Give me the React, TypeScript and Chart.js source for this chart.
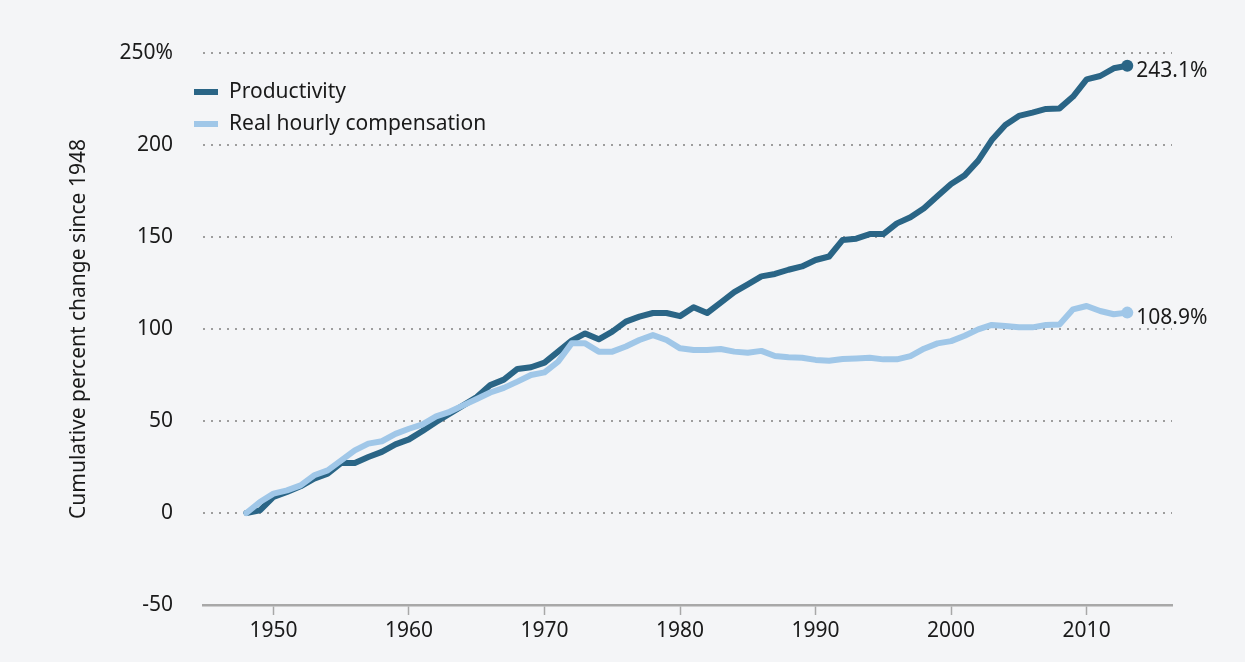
import React, { useEffect, useRef } from "react";
import { Chart, registerables } from "chart.js";

Chart.register(...registerables);

const years = [
  1948, 1949, 1950, 1951, 1952, 1953, 1954, 1955, 1956, 1957, 1958, 1959,
  1960, 1961, 1962, 1963, 1964, 1965, 1966, 1967, 1968, 1969, 1970, 1971,
  1972, 1973, 1974, 1975, 1976, 1977, 1978, 1979, 1980, 1981, 1982, 1983,
  1984, 1985, 1986, 1987, 1988, 1989, 1990, 1991, 1992, 1993, 1994, 1995,
  1996, 1997, 1998, 1999, 2000, 2001, 2002, 2003, 2004, 2005, 2006, 2007,
  2008, 2009, 2010, 2011, 2012, 2013,
];

const productivity = [
  0, 1.4, 8.7, 11.4, 14.5, 18.7, 21.4, 27.2, 27.2, 30.4, 33.2, 37.3,
  40.0, 44.6, 49.5, 54.0, 58.5, 63.0, 69.5, 72.5, 78.3, 79.2, 81.7, 87.7,
  93.7, 97.6, 94.4, 98.6, 104.0, 106.7, 108.7, 108.7, 107.0, 111.8, 108.7, 114.3,
  120.0, 124.2, 128.6, 129.9, 132.2, 134.0, 137.5, 139.4, 148.4, 149.1, 151.6, 151.6,
  157.4, 160.7, 165.6, 172.3, 178.8, 183.5, 191.5, 202.7, 210.9, 215.8, 217.6, 219.6,
  219.9, 226.3, 235.7, 237.5, 241.7, 243.1,
];

const compensation = [
  0, 6.0, 10.5, 12.3, 15.0, 20.5, 23.2, 28.6, 34.0, 37.7, 39.0, 43.0,
  45.8, 48.2, 52.5, 55.0, 58.5, 62.0, 65.5, 68.0, 71.4, 75.0, 76.4, 82.2,
  92.2, 92.2, 87.7, 87.7, 90.5, 94.0, 96.7, 94.0, 89.5, 88.6, 88.6, 89.1,
  87.7, 87.1, 88.1, 85.3, 84.6, 84.4, 83.2, 82.7, 83.7, 84.0, 84.4, 83.5,
  83.5, 85.3, 89.3, 92.2, 93.4, 96.3, 99.8, 102.2, 101.6, 100.9, 100.9, 102.2,
  102.5, 110.7, 112.5, 109.8, 108.0, 108.9,
];

const xTicks = [1950, 1960, 1970, 1980, 1990, 2000, 2010];
const yTicks = [-50, 0, 50, 100, 150, 200, 250];

const seriesLabels = ["Productivity", "Real hourly compensation"];
const seriesColors = ["#2a6586", "#a0c7e8"];
const yTitle = "Cumulative percent change since 1948";

const FONT = "'Noto Sans', 'Open Sans', sans-serif";
const FS = 21;
const BG = "#f4f5f7";

const endLabelPlugin = {
  id: "endLabels",
  afterDatasetsDraw(chart: any) {
    const ctx = chart.ctx;
    ctx.save();
    ctx.font = `${FS}px ${FONT}`;
    ctx.fillStyle = "#1a1a1a";
    ctx.textAlign = "left";
    ctx.textBaseline = "middle";
    chart.data.datasets.forEach((ds: any, i: number) => {
      const meta = chart.getDatasetMeta(i);
      const last = meta.data[meta.data.length - 1];
      const v = ds.data[ds.data.length - 1].y;
      ctx.fillText(`${v.toFixed(1)}%`, last.x + 9, last.y + 5);
    });
    ctx.restore();
  },
};

const legendPlugin = {
  id: "customLegend",
  afterDraw(chart: any) {
    const ctx = chart.ctx;
    ctx.save();
    ctx.font = `${FS}px ${FONT}`;
    ctx.textAlign = "left";
    ctx.textBaseline = "middle";
    chart.data.datasets.forEach((ds: any, i: number) => {
      const y = 92 + i * 32;
      ctx.fillStyle = ds.borderColor;
      ctx.fillRect(194, y - 3, 24, 6);
      ctx.fillStyle = "#1a1a1a";
      ctx.fillText(ds.label, 229, y);
    });
    ctx.restore();
  },
};

export default function App() {
  const canvasRef = useRef<HTMLCanvasElement | null>(null);

  useEffect(() => {
    document.body.style.margin = "0";
    document.body.style.background = BG;
    const canvas = canvasRef.current;
    if (!canvas) return;

    const mk = (vals: number[]) => years.map((yr, i) => ({ x: yr, y: vals[i] }));
    const radii = (n: number) => (ctx: any) => (ctx.dataIndex === n - 1 ? 6 : 0);

    const chart = new Chart(canvas, {
      type: "line",
      data: {
        datasets: [
          {
            label: seriesLabels[0],
            data: mk(productivity),
            borderColor: seriesColors[0],
            backgroundColor: seriesColors[0],
            borderWidth: 6,
            tension: 0,
            borderJoinStyle: "round",
            borderCapStyle: "round",
            pointRadius: radii(years.length),
            pointBorderWidth: 0,
            pointHoverRadius: 0,
            order: 1,
          },
          {
            label: seriesLabels[1],
            data: mk(compensation),
            borderColor: seriesColors[1],
            backgroundColor: seriesColors[1],
            borderWidth: 6,
            tension: 0,
            borderJoinStyle: "round",
            borderCapStyle: "round",
            pointRadius: radii(years.length),
            pointBorderWidth: 0,
            pointHoverRadius: 0,
            order: 0,
          },
        ],
      },
      options: {
        responsive: false,
        animation: false,
        events: [],
        layout: { padding: { left: 66, right: 73, top: 53, bottom: 0 } },
        plugins: {
          legend: { display: false },
          tooltip: { enabled: false },
        },
        scales: {
          x: {
            type: "linear",
            min: 1944.8,
            max: 2016.3,
            afterBuildTicks: (scale: any) => {
              scale.ticks = xTicks.map((v) => ({ value: v }));
            },
            afterFit: (scale: any) => {
              scale.height = 57;
            },
            ticks: {
              callback: (v: any) => String(v),
              font: { family: FONT, size: FS },
              color: "#1a1a1a",
              padding: 3,
              maxRotation: 0,
            },
            grid: {
              drawOnChartArea: false,
              drawTicks: true,
              tickLength: 10,
              tickColor: "#a8a8a8",
              tickWidth: 1.5,
            },
            border: { display: true, color: "#a8a8a8", width: 2.5 },
          },
          y: {
            min: -50,
            max: 250,
            afterBuildTicks: (scale: any) => {
              scale.ticks = yTicks.map((v) => ({ value: v }));
            },
            afterFit: (scale: any) => {
              scale.width = 137;
            },
            ticks: {
              callback: (v: any) => (v === 250 ? "250%" : String(v)),
              font: { family: FONT, size: FS },
              color: "#1a1a1a",
              padding: 30,
            },
            grid: {
              drawTicks: false,
              color: (ctx: any) =>
                ctx.tick && ctx.tick.value === -50 ? "rgba(0,0,0,0)" : "#9d9d9d",
              lineWidth: 2,
            },
            border: { display: false, dash: [2, 6] },
            title: {
              display: true,
              text: yTitle,
              font: { family: FONT, size: FS },
              color: "#1a1a1a",
              padding: 0,
            },
          },
        },
      },
      plugins: [endLabelPlugin, legendPlugin],
    } as any);

    return () => chart.destroy();
  }, []);

  return (
    <div style={{ width: 1245, height: 662, background: BG }}>
      <canvas ref={canvasRef} width={1245} height={662} style={{ display: "block" }} />
    </div>
  );
}
